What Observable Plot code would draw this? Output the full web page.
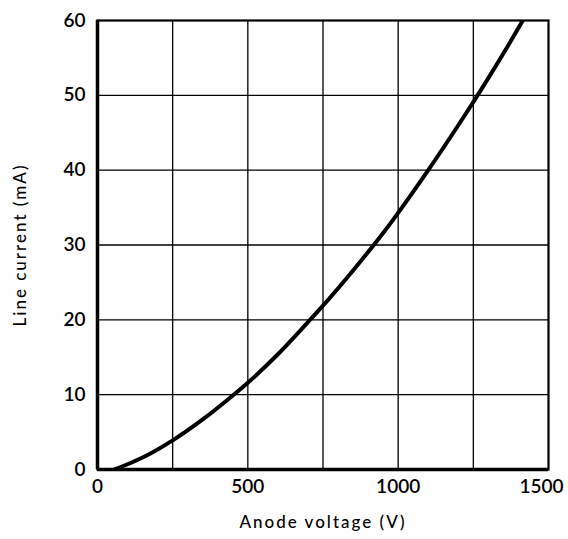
<!DOCTYPE html>
<html>
<head>
<meta charset="utf-8">
<script src="https://cdn.jsdelivr.net/npm/d3@7"></script>
<script src="https://cdn.jsdelivr.net/npm/@observablehq/plot@0.6"></script>
<style>
  html, body { margin: 0; padding: 0; background: #fff; }
  #chart svg { display: block; }
</style>
</head>
<body>
<div id="chart"></div>
<script>
// Anode voltage (V) and line current (mA)
const voltage = [55, 100, 150, 250, 350, 450, 500, 600, 700, 750, 850, 950, 1000, 1100, 1200, 1250, 1300, 1400, 1420];
const current = [0, 0.7, 1.6, 3.9, 6.7, 9.9, 11.6, 15.4, 19.7, 21.9, 26.6, 31.6, 34.3, 40.0, 46.0, 49.1, 52.3, 59.0, 60.4];
const xGrid = [250, 500, 750, 1000, 1250];
const yGrid = [10, 20, 30, 40, 50];
const xTicks = [0, 500, 1000];
const xTickLast = [1500];
const yTicks = [0, 10, 20, 30, 40, 50, 60];
const xLabel = "Anode voltage (V)";
const yLabel = "Line current (mA)";

const data = voltage.map((v, i) => ({v, c: current[i]}));
const fmt = d3.format("d");

const chart = Plot.plot({
  width: 568,
  height: 539,
  marginLeft: 97,
  marginRight: 20,
  marginTop: 20,
  marginBottom: 70,
  style: {fontFamily: "Lato, sans-serif", background: "#fff", color: "#000"},
  x: {domain: [0, 1500]},
  y: {domain: [0, 60]},
  marks: [
    Plot.ruleX(xGrid, {stroke: "#000", strokeWidth: 1.3}),
    Plot.ruleY(yGrid, {stroke: "#000", strokeWidth: 1.3}),
    Plot.frame({stroke: "#000", strokeWidth: 2.2}),
    Plot.ruleX([0], {stroke: "#000", strokeWidth: 3.5}),
    Plot.ruleY([0], {stroke: "#000", strokeWidth: 3.5}),
    Plot.line(data, {x: "v", y: "c", curve: "monotone-x", stroke: "#000", strokeWidth: 4, clip: true}),
    Plot.axisX({ticks: xTicks, tickFormat: fmt, tickSize: 0, tickPadding: 10, fontSize: 19, fontWeight: 600,
      label: xLabel, labelAnchor: "center", labelArrow: "none", labelOffset: 58}),
    Plot.axisX({ticks: xTickLast, tickFormat: fmt, tickSize: 0, tickPadding: 10, fontSize: 19, fontWeight: 600,
      dx: -7, label: null}),
    Plot.axisY({ticks: yTicks, tickFormat: fmt, tickSize: 0, tickPadding: 12, fontSize: 19, fontWeight: 600,
      label: yLabel, labelAnchor: "center", labelArrow: "none", labelOffset: 84})
  ]
});

// style axis labels
chart.querySelectorAll("g[aria-label='x-axis label'] text, g[aria-label='y-axis label'] text").forEach(t => {
  t.setAttribute("font-size", "17");
  t.setAttribute("font-weight", "500");
  t.setAttribute("letter-spacing", "2");
});
document.getElementById("chart").append(chart);
</script>
</body>
</html>
